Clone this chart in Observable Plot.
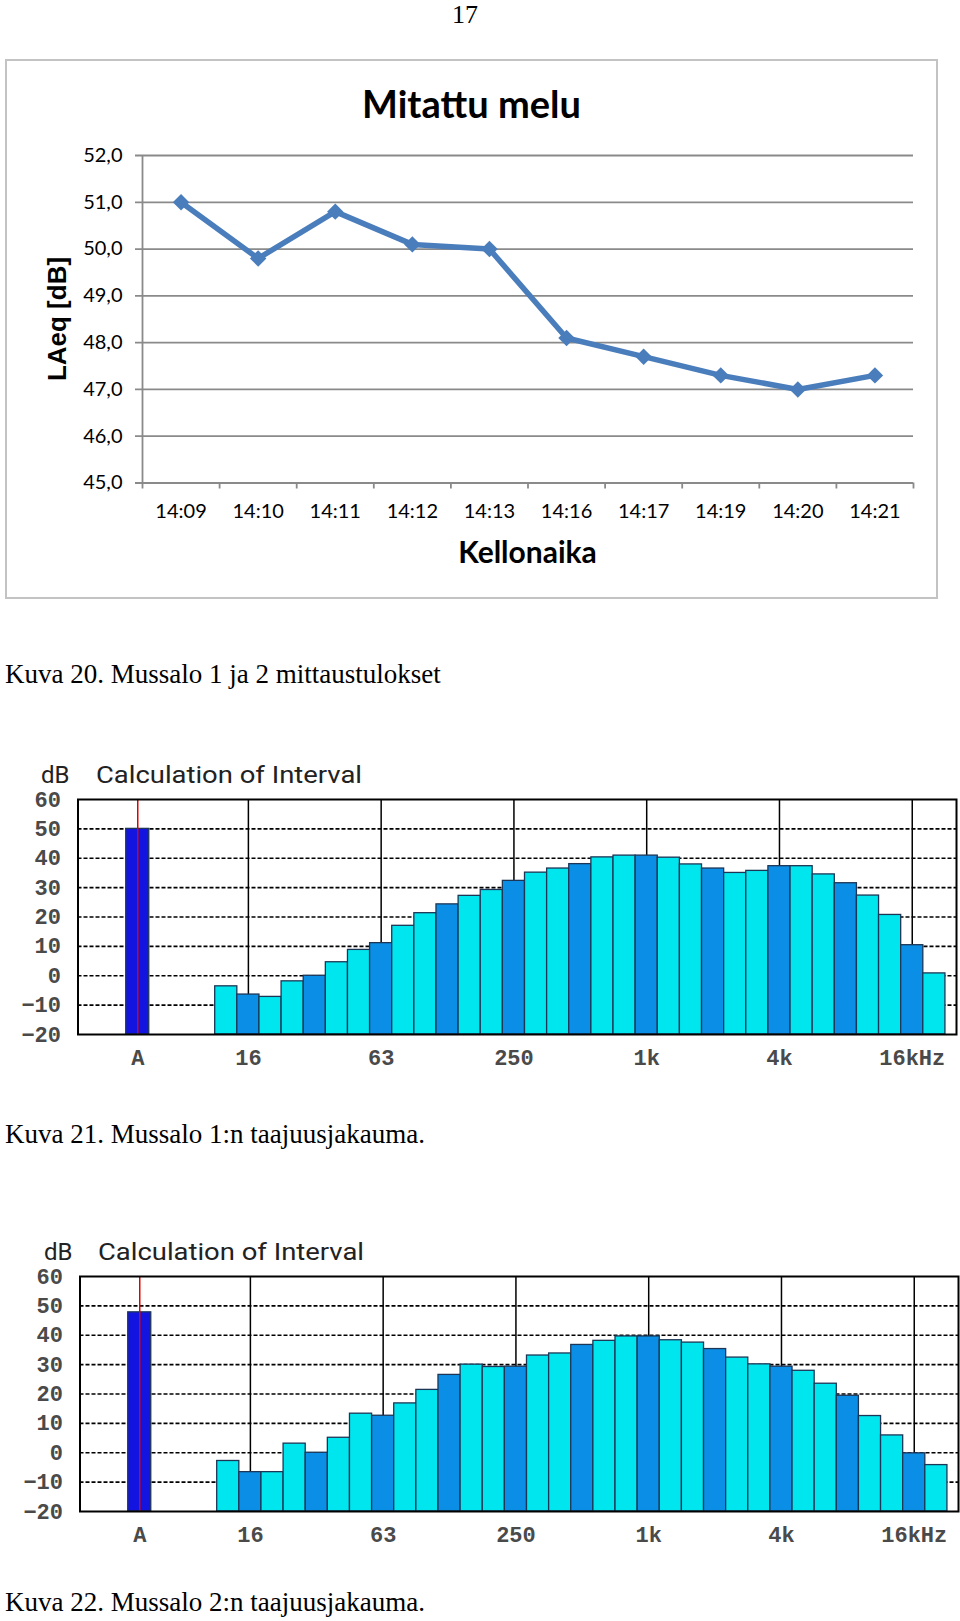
<!DOCTYPE html>
<html><head><meta charset="utf-8">
<script src="https://cdn.jsdelivr.net/npm/d3@7"></script>
<script src="https://cdn.jsdelivr.net/npm/@observablehq/plot@0.6"></script>
<style>
body{margin:0;background:#fff;}
#page{position:relative;width:960px;height:1621px;overflow:hidden;background:#fff;}
#page > *{position:absolute;}
.cap{font-family:"Liberation Serif","Times New Roman",serif;font-size:27px;line-height:30px;color:#000;white-space:nowrap;}
.dbt{font-family:Roboto,sans-serif;font-size:24px;line-height:26px;color:#222;white-space:nowrap;transform-origin:left center;}
</style></head><body><div id="page"></div>
<script>
// ---- Data: line chart (Kuva 20) ----
const times = ["14:09","14:10","14:11","14:12","14:13","14:16","14:17","14:19","14:20","14:21"];
const laeq  = [51.0, 49.8, 50.8, 50.1, 50.0, 48.1, 47.7, 47.3, 47.0, 47.3];
const laeqTicks = [45, 46, 47, 48, 49, 50, 51, 52];

// ---- Data: 1/3-octave spectra (Kuva 21, 22) ----
const bands = ["12.5","16","20","25","31.5","40","50","63","80","100","125","160","200","250","315","400","500","630","800","1k","1.25k","1.6k","2k","2.5k","3.15k","4k","5k","6.3k","8k","10k","12.5k","16k","20k"];
const octaveBands = ["16","31.5","63","125","250","500","1k","2k","4k","8k","16k"];
const spectrum1 = [-3.6,-6.4,-7.2,-1.9,0.0,4.6,8.8,11.1,17.0,21.3,24.3,27.2,29.2,32.3,35.1,36.5,38.0,40.3,40.9,40.9,40.2,37.9,36.5,35.0,35.7,37.3,37.3,34.5,31.5,27.3,20.7,10.4,0.8];
const total1 = 50.0;
const spectrum2 = [-2.8,-6.6,-6.6,3.1,0.0,5.1,13.3,12.6,16.8,21.4,26.5,30.0,29.2,29.3,33.1,33.8,36.7,38.1,39.6,39.6,38.3,37.5,35.3,32.4,30.1,29.3,27.9,23.5,19.4,12.5,5.9,-0.2,-4.2];
const total2 = 47.8;
const freqTickBands = ["A","16","63","250","1k","4k","16k"];
const freqTickLabels = ["A","16","63","250","1k","4k","16kHz"];
const dbTicks = [60, 50, 40, 30, 20, 10, 0, -10, -20];

const page = document.getElementById("page");
function add(el, left, top){ el.style.left = left + "px"; el.style.top = top + "px"; page.appendChild(el); return el; }
function div(text, cls, css){ const d = document.createElement("div"); d.textContent = text; if (cls) d.className = cls; Object.assign(d.style, css || {}); return d; }

// page number
add(div("17", null, {font:"26px 'Liberation Serif', serif", lineHeight:"30px", width:"60px", textAlign:"center"}), 435, 0);

// frame of the line chart
add(div("", null, {width:"933px", height:"540px", border:"2px solid #c3c3c3", boxSizing:"border-box"}), 5, 59);

// ---- line chart ----
const lineData = times.map((t, i) => ({t, i, v: laeq[i]}));
const yMin = d3.min(laeqTicks), yMax = d3.max(laeqTicks);
const lineChart = Plot.plot({
  width: 933, height: 540,
  marginLeft: 137, marginRight: 25, marginTop: 96, marginBottom: 116.5,
  x: {type: "linear", domain: [-0.5, times.length - 0.5], axis: null},
  y: {type: "linear", domain: [yMin, yMax], axis: null},
  style: {background: "transparent", fontFamily: "Lato, sans-serif", fontSize: "20px", color: "#000", overflow: "visible"},
  marks: [
    Plot.ruleY(laeqTicks, {stroke: "#8a8a8a", strokeWidth: 1.8, insetLeft: -7}),
    Plot.ruleX([-0.5], {stroke: "#8a8a8a", strokeWidth: 1.8}),
    Plot.ruleX(d3.range(times.length + 1).map(i => i - 0.5), {y1: yMin, y2: yMin, insetBottom: -6, stroke: "#8a8a8a", strokeWidth: 1.8}),
    Plot.axisY(laeqTicks, {label: null, tickSize: 0, tickPadding: 20, tickFormat: d => d.toFixed(1).replace(".", ","), fontSize: 20}),
    Plot.text(lineData, {x: "i", y: yMin, text: "t", dy: 29, fontSize: 20, fill: "#000"}),
    Plot.line(lineData, {x: "i", y: "v", stroke: "#4a7dbb", strokeWidth: 5.5}),
    Plot.dot(lineData, {x: "i", y: "v", symbol: "diamond2", r: 7.4, fill: "#4a7dbb", stroke: "none"})
  ]
});
add(lineChart, 5, 59);

// line chart texts
add(div("Mitattu melu", null, {font:"bold 38px Lato, sans-serif", lineHeight:"44px", width:"933px", textAlign:"center", color:"#000"}), 5, 81);
add(div("Kellonaika", null, {font:"bold 30px Lato, sans-serif", lineHeight:"34px", width:"771px", textAlign:"center", color:"#000"}), 142, 534);
add(div("LAeq [dB]", null, {font:"bold 26px 'Liberation Sans', Arial, sans-serif", lineHeight:"30px", width:"200px", textAlign:"center", color:"#000", transform:"rotate(-90deg)", transformOrigin:"center center"}), 57 - 100, 319 - 15);

// captions
add(div("Kuva 20. Mussalo 1 ja 2 mittaustulokset", "cap"), 5, 659);
add(div("Kuva 21. Mussalo 1:n taajuusjakauma.", "cap"), 5, 1119);
add(div("Kuva 22. Mussalo 2:n taajuusjakauma.", "cap"), 5, 1587);

// ---- spectra ----
const aIndex = -4;
function spectrumChart(values, total){
  const data = bands.map((b, i) => ({b, i, v: values[i], oct: octaveBands.includes(b)}));
  const tickIdx = freqTickBands.map(b => b === "A" ? aIndex : bands.indexOf(b));
  const mono = "'Liberation Mono', 'DejaVu Sans Mono', monospace";
  return Plot.plot({
    width: 960, height: 316,
    marginLeft: 77.5, marginRight: 4, marginTop: 39, marginBottom: 42,
    x: {type: "linear", domain: [aIndex - 2.7, bands.length], axis: null},
    y: {type: "linear", domain: [d3.min(dbTicks), d3.max(dbTicks)], axis: null},
    style: {background: "transparent", fontFamily: mono, overflow: "visible"},
    marks: [
      Plot.ruleY(dbTicks.slice(1, -1), {stroke: "#000", strokeWidth: 1.6, strokeDasharray: "4,2"}),
      Plot.ruleX(tickIdx.slice(1), {stroke: "#000", strokeWidth: 1.5}),
      Plot.rectY(data, {x1: d => d.i - 0.5, x2: d => d.i + 0.5, y1: d3.min(dbTicks), y2: "v",
        fill: d => d.oct ? "#0b8fe6" : "#00e6ee", stroke: "#1d3656", strokeWidth: 1.3}),
      Plot.rectY([total], {x1: aIndex - 0.52, x2: aIndex + 0.52, y1: d3.min(dbTicks), y2: d => d,
        fill: "#1414e0", stroke: "#1d3656", strokeWidth: 1.3}),
      Plot.ruleX([aIndex], {stroke: "#e00000", strokeWidth: 1.5}),
      Plot.frame({stroke: "#000", strokeWidth: 2}),
      Plot.axisY(dbTicks, {label: null, tickSize: 0, tickPadding: 17, fontSize: 22, fontWeight: "bold", fill: "#4a4a4a"}),
      Plot.axisX(tickIdx, {label: null, tickSize: 0, tickPadding: 15, tickFormat: (d, i) => freqTickLabels[i], fontSize: 22, fontWeight: "bold", fill: "#4a4a4a"})
    ]
  });
}
add(spectrumChart(spectrum1, total1), 0, 760);
add(spectrumChart(spectrum2, total2), 2, 1237);

// spectrum titles
const titles = [];
add(div("dB", "dbt"), 41, 762);
titles.push(add(div("Calculation of Interval", "dbt"), 96, 762));
add(div("dB", "dbt"), 44, 1239);
titles.push(add(div("Calculation of Interval", "dbt"), 98, 1239));
function fit(){ titles.forEach(t => { t.style.transform = ""; const w = t.getBoundingClientRect().width; t.style.transform = `scaleX(${266 / w})`; }); }
fit();
if (document.fonts && document.fonts.ready) document.fonts.ready.then(fit);
</script>
</body></html>
